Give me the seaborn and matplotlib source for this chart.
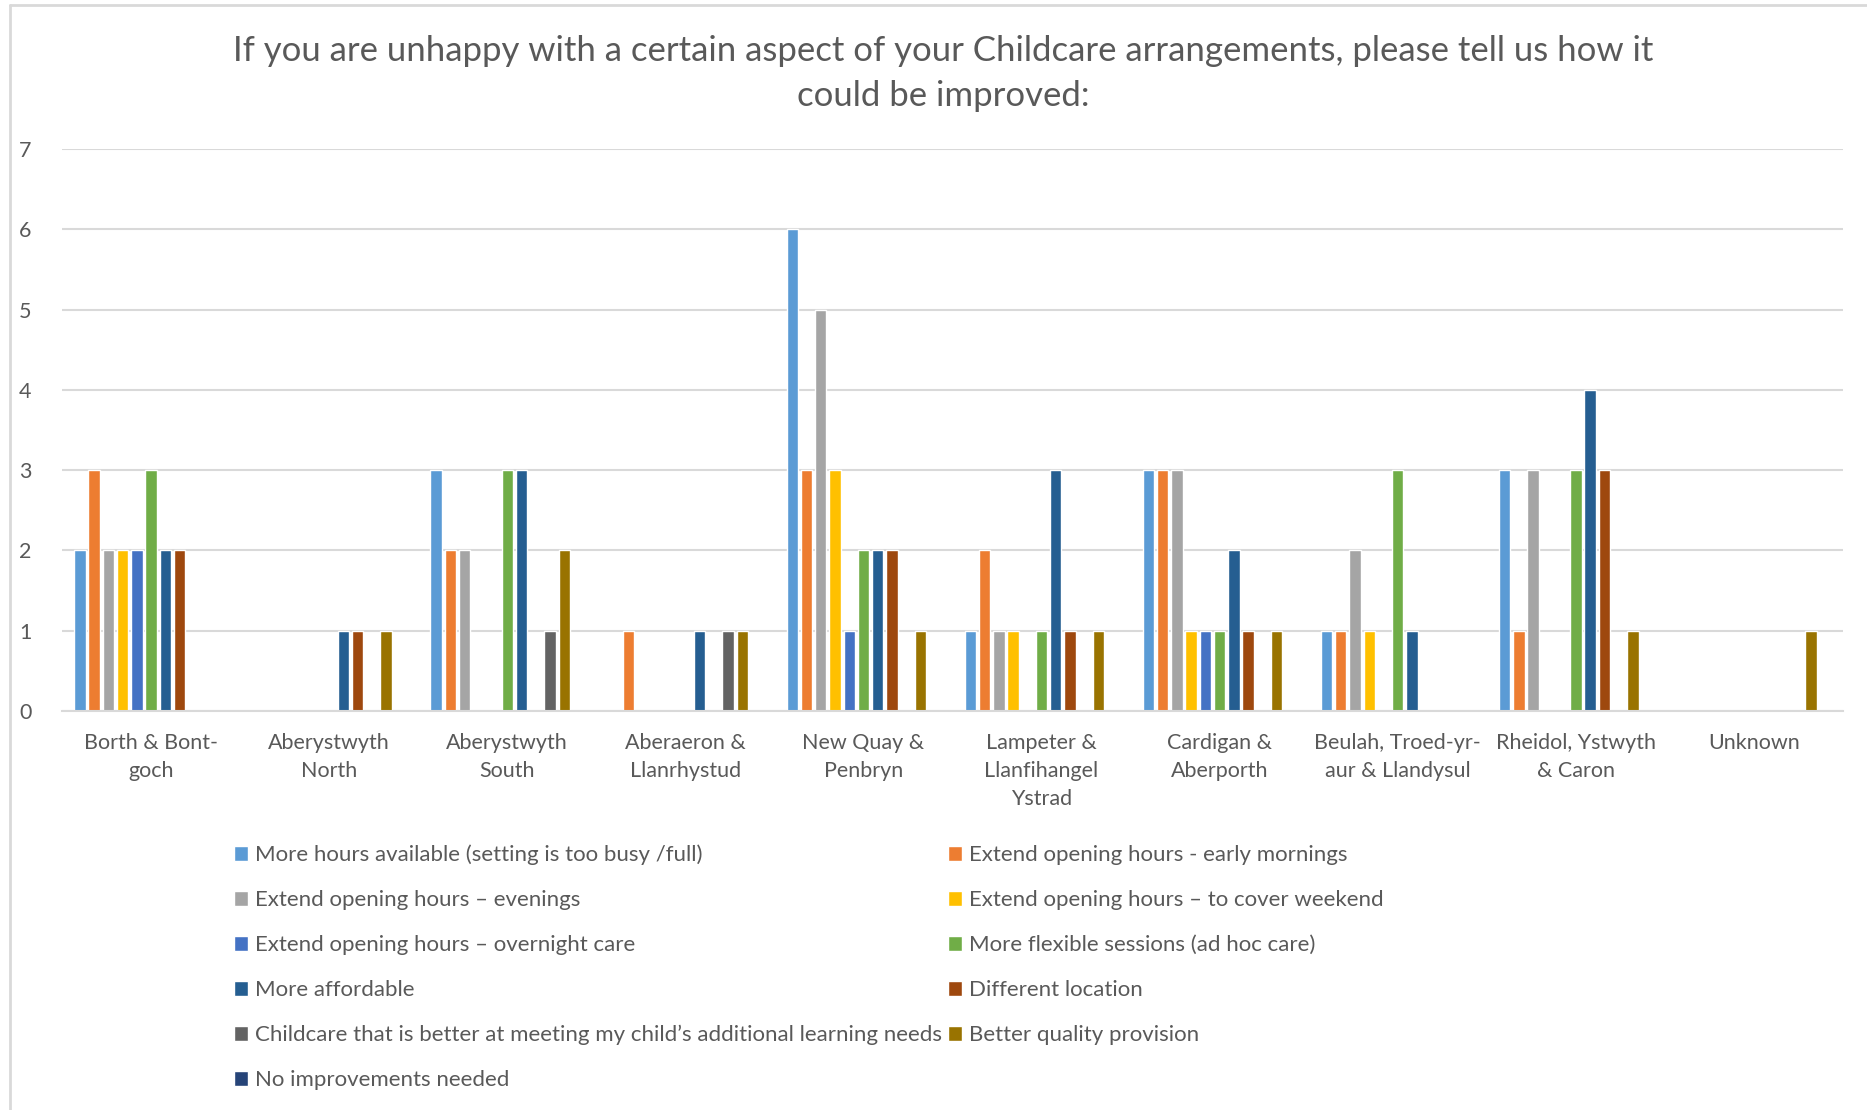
import pandas as pd
import numpy as np
import matplotlib.pyplot as plt
import seaborn as sns
import matplotlib
from matplotlib.lines import Line2D

# areas (x axis)
areas = ['Borth & Bont-\ngoch', 'Aberystwyth\nNorth', 'Aberystwyth\nSouth',
         'Aberaeron &\nLlanrhystud', 'New Quay &\nPenbryn',
         'Lampeter &\nLlanfihangel\nYstrad', 'Cardigan &\nAberporth',
         'Beulah, Troed-yr-\naur & Llandysul', 'Rheidol, Ystwyth\n& Caron', 'Unknown']

series = ['More hours available (setting is too busy /full)',
          'Extend opening hours - early mornings',
          'Extend opening hours \u2013 evenings',
          'Extend opening hours \u2013 to cover weekend',
          'Extend opening hours \u2013 overnight care',
          'More flexible sessions (ad hoc care)',
          'More affordable',
          'Different location',
          'Childcare that is better at meeting my child\u2019s additional learning needs',
          'Better quality provision',
          'No improvements needed']

more_hours = [2, 0, 3, 0, 6, 1, 3, 1, 3, 0]
early_mornings = [3, 0, 2, 1, 3, 2, 3, 1, 1, 0]
evenings = [2, 0, 2, 0, 5, 1, 3, 2, 3, 0]
weekend = [2, 0, 0, 0, 3, 1, 1, 1, 0, 0]
overnight = [2, 0, 0, 0, 1, 0, 1, 0, 0, 0]
flexible = [3, 0, 3, 0, 2, 1, 1, 3, 3, 0]
affordable = [2, 1, 3, 1, 2, 3, 2, 1, 4, 0]
location = [2, 1, 0, 0, 2, 1, 1, 0, 3, 0]
aln_needs = [0, 0, 1, 1, 0, 0, 0, 0, 0, 0]
quality = [0, 1, 2, 1, 1, 1, 1, 0, 1, 1]
no_improvements = [0, 0, 0, 0, 0, 0, 0, 0, 0, 0]

colors = ['#5B9BD5', '#ED7D31', '#A5A5A5', '#FFC000', '#4472C4', '#70AD47',
          '#255E91', '#9E480E', '#636363', '#997300', '#264478']

values = [more_hours, early_mornings, evenings, weekend, overnight, flexible,
          affordable, location, aln_needs, quality, no_improvements]

rows = []
for name, vals in zip(series, values):
    for area, v in zip(areas, vals):
        rows.append({'Area': area, 'Series': name, 'Count': v})
df = pd.DataFrame(rows)

sns.set_style('white')
plt.rcParams['font.family'] = ['Lato', 'DejaVu Sans']
txt = '#595959'
grid = '#D9D9D9'

fig = plt.figure(figsize=(18.67, 11.10), dpi=100)
ax = fig.add_axes([62/1867, 1-711/1110, (1843-62)/1867, (711-149)/1110])

sns.barplot(data=df, x='Area', y='Count', hue='Series', hue_order=series,
            order=areas, palette=colors, width=0.88, gap=0.2, ax=ax,
            saturation=1, errorbar=None)

ax.set_ylim(0, 7)
ax.set_xlim(-0.5, 9.5)
ax.set_yticks(range(0, 8))
ax.yaxis.grid(True, color=grid, linewidth=1.5)
ax.set_axisbelow(True)
for s in ['top', 'right', 'left']:
    ax.spines[s].set_visible(False)
ax.spines['bottom'].set_color(grid)
ax.spines['bottom'].set_linewidth(1.5)
ax.tick_params(axis='both', length=0, colors=txt, labelsize=15.5)
ax.tick_params(axis='x', pad=16)
ax.tick_params(axis='y', pad=22)
for lab in ax.get_xticklabels():
    lab.set_linespacing(1.5)
ax.set_xlabel('')
ax.set_ylabel('')

# legend: row-wise order, two columns
h, l = ax.get_legend_handles_labels()
ax.get_legend().remove()
idx = [0, 2, 4, 6, 8, 10, 1, 3, 5, 7, 9]
fig.legend([h[i] for i in idx], [l[i] for i in idx], ncol=2,
           loc='upper left', bbox_to_anchor=(225/1867, 1-836/1110),
           frameon=False, fontsize=16, labelcolor=txt,
           handlelength=0.65, handleheight=0.65, handletextpad=0.3,
           columnspacing=0.25, labelspacing=1.12, borderaxespad=0)

fig.text(0.505, 1-51/1110, 'If you are unhappy with a certain aspect of your Childcare arrangements, please tell us how it',
         ha='center', va='center', fontsize=25, color=txt)
fig.text(0.505, 1-96/1110, 'could be improved:',
         ha='center', va='center', fontsize=25, color=txt)

# chart frame edges
fig.add_artist(Line2D([10/1867, 10/1867], [0, 1-5/1110], color=grid, linewidth=2))
fig.add_artist(Line2D([10/1867, 1], [1-5/1110, 1-5/1110], color=grid, linewidth=2))

fig.savefig('out.png', dpi=100)
